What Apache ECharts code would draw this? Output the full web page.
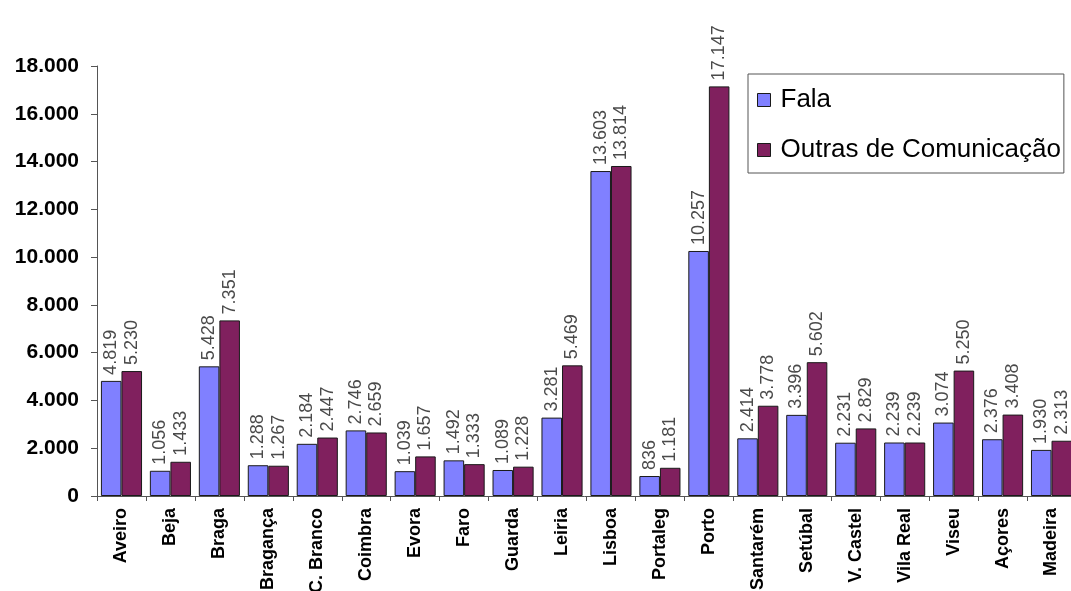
<!DOCTYPE html>
<html>
<head>
<meta charset="utf-8">
<script src="https://cdn.jsdelivr.net/npm/echarts@6/dist/echarts.min.js"></script>
<style>
  html, body { margin: 0; padding: 0; background: #fff; }
  #chart { width: 1071px; height: 591px; }
</style>
</head>
<body>
<div id="chart"></div>
<script>
// Distritos / regiões
const categories = ['Aveiro', 'Beja', 'Braga', 'Bragança', 'C. Branco', 'Coimbra', 'Evora', 'Faro',
  'Guarda', 'Leiria', 'Lisboa', 'Portaleg', 'Porto', 'Santarém', 'Setúbal', 'V. Castel',
  'Vila Real', 'Viseu', 'Açores', 'Madeira'];

const seriesNames = ['Fala', 'Outras de Comunicação'];

const fala = [4819, 1056, 5428, 1288, 2184, 2746, 1039, 1492, 1089, 3281,
  13603, 836, 10257, 2414, 3396, 2231, 2239, 3074, 2376, 1930];

const outras = [5230, 1433, 7351, 1267, 2447, 2659, 1657, 1333, 1228, 5469,
  13814, 1181, 17147, 3778, 5602, 2829, 2239, 5250, 3408, 2313];

const yTicks = [0, 2000, 4000, 6000, 8000, 10000, 12000, 14000, 16000, 18000];

const FONT = "'Liberation Sans', Arial, sans-serif";

// Portuguese thousands separator
function fmt(v) {
  return String(Math.round(v)).replace(/\B(?=(\d{3})+(?!\d))/g, '.');
}

const chart = echarts.init(document.getElementById('chart'));

function barSeries(name, data, color) {
  return {
    name: name,
    type: 'bar',
    data: data,
    barGap: '0%',
    barCategoryGap: '16%',
    itemStyle: { color: color, borderColor: '#1a1a1a', borderWidth: 1 },
    label: {
      show: true,
      position: 'top',
      rotate: 90,
      align: 'left',
      verticalAlign: 'middle',
      distance: 6,
      fontFamily: FONT,
      fontSize: 18,
      color: '#4a4a4a',
      formatter: p => fmt(p.value)
    }
  };
}

chart.setOption({
  animation: false,
  backgroundColor: '#fff',
  textStyle: { fontFamily: FONT },
  grid: { left: 97, top: 66, bottom: 95, width: 979, containLabel: false, outerBoundsMode: 'none' },
  legend: {
    orient: 'vertical',
    left: 748,
    top: 74,
    data: seriesNames,
    itemWidth: 13,
    itemHeight: 13,
    itemGap: 24,
    padding: [13, 3, 10, 9],
    borderColor: '#555',
    borderWidth: 1,
    icon: 'rect',
    itemStyle: { borderColor: '#1a1a1a', borderWidth: 1 },
    textStyle: { fontFamily: FONT, fontSize: 26, color: '#000', padding: [0, 0, 0, 5] }
  },
  xAxis: {
    type: 'category',
    data: categories,
    axisLine: { lineStyle: { color: '#555', width: 1 } },
    axisTick: { show: true, length: 5, lineStyle: { color: '#555' } },
    axisLabel: {
      rotate: 90,
      margin: 12,
      interval: 0,
      fontFamily: FONT,
      fontSize: 18,
      fontWeight: 'bold',
      color: '#000'
    }
  },
  yAxis: {
    type: 'value',
    min: yTicks[0],
    max: yTicks[yTicks.length - 1],
    interval: yTicks[1] - yTicks[0],
    splitLine: { show: false },
    axisLine: { show: true, lineStyle: { color: '#555', width: 1 } },
    axisTick: { show: true, length: 6, lineStyle: { color: '#555' } },
    axisLabel: {
      margin: 18,
      fontFamily: FONT,
      fontSize: 21,
      fontWeight: 'bold',
      color: '#000',
      formatter: v => fmt(v)
    }
  },
  series: [
    barSeries(seriesNames[0], fala, '#8080ff'),
    barSeries(seriesNames[1], outras, '#80205e')
  ]
});
</script>
</body>
</html>
